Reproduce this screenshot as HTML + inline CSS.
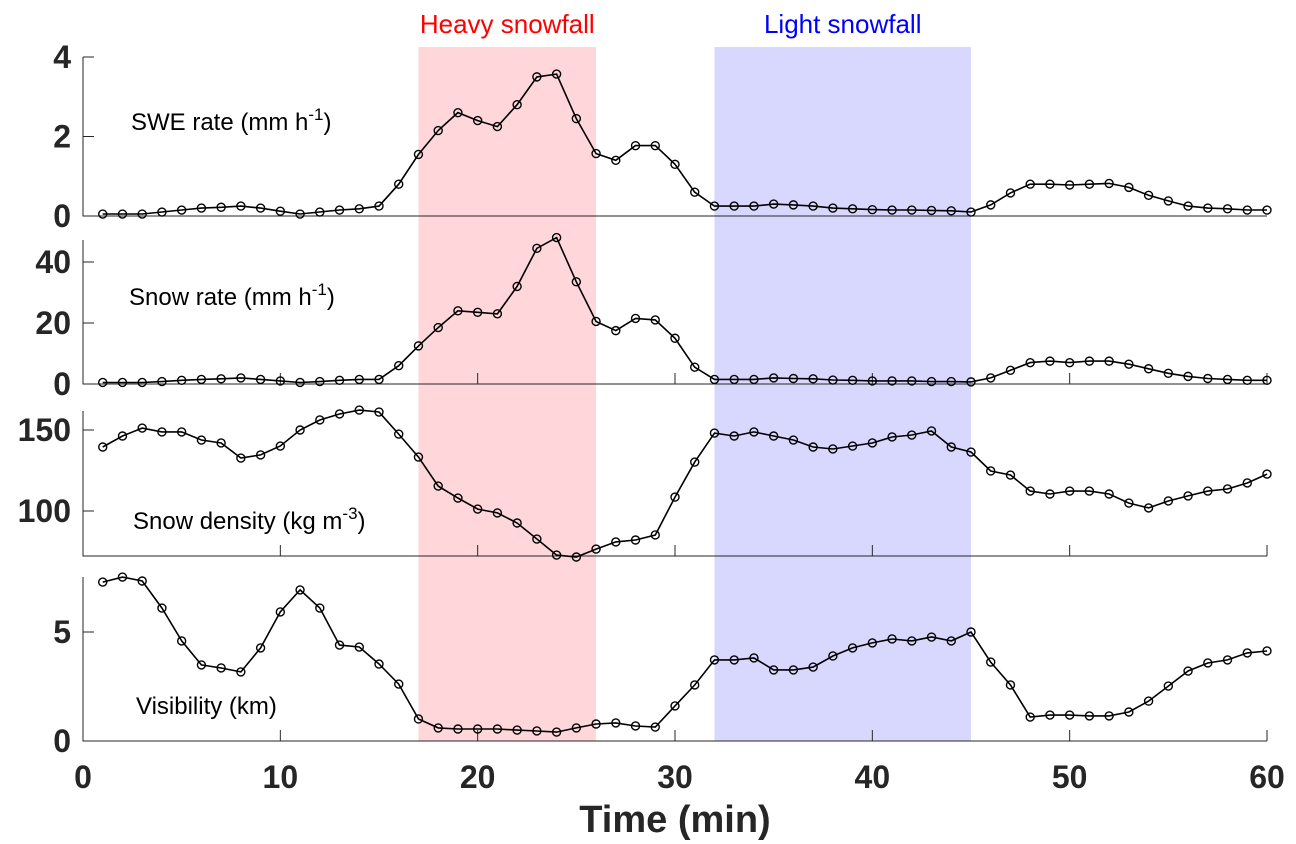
<!DOCTYPE html>
<html><head><meta charset="utf-8"><style>
body{margin:0;background:#fff;}
svg{display:block;font-family:"Liberation Sans",Arial,sans-serif;}
</style></head><body>
<svg id="chart" width="1296" height="844" xmlns="http://www.w3.org/2000/svg"></svg>
<script>
const times = Array.from({length:60},(_,i)=>i+1);
const sweRate = [0.05,0.05,0.05,0.1,0.15,0.2,0.22,0.25,0.2,0.12,0.05,0.1,0.15,0.18,0.25,0.8,1.55,2.15,2.6,2.4,2.25,2.8,3.5,3.57,2.45,1.57,1.4,1.77,1.77,1.3,0.6,0.25,0.25,0.25,0.3,0.28,0.25,0.2,0.18,0.16,0.15,0.15,0.14,0.13,0.1,0.28,0.58,0.8,0.8,0.78,0.8,0.82,0.72,0.52,0.38,0.25,0.2,0.18,0.15,0.15];
const snowRate = [0.5,0.5,0.5,0.8,1.2,1.5,1.7,2,1.5,1,0.5,0.8,1.2,1.5,1.5,6,12.5,18.5,24,23.5,23,32,44.5,48,33.5,20.5,17.5,21.5,21,15,5.5,1.5,1.5,1.5,2,1.8,1.7,1.3,1.2,1,1,1,0.8,0.8,0.7,2,4.5,7,7.5,7,7.5,7.5,6.5,5,3.5,2.5,1.8,1.5,1.2,1.2];
const snowDensity = [139.5,146.3,151.2,148.8,148.8,143.8,142,132.7,134.6,140.1,150,156.2,159.9,162.3,161.1,147.5,133.3,115.4,108,101.2,98.8,92.6,82.7,72.8,71.6,76.5,80.9,82.1,85.2,108.6,130.2,148.1,146.3,148.8,146.3,143.8,139.5,138.3,140.1,142,145.7,146.9,149.4,139.5,136.4,124.7,122.2,112.3,110.5,112.3,112.3,110.5,104.9,101.9,106.2,109.3,112.3,113.6,117.3,122.8];
const visibility = [7.29,7.52,7.34,6.1,4.59,3.49,3.35,3.17,4.27,5.92,6.93,6.1,4.4,4.31,3.53,2.61,1.01,0.6,0.55,0.55,0.55,0.5,0.46,0.41,0.6,0.78,0.83,0.69,0.64,1.61,2.57,3.72,3.72,3.81,3.26,3.26,3.39,3.9,4.27,4.5,4.68,4.59,4.77,4.59,5.0,3.62,2.57,1.1,1.19,1.19,1.15,1.15,1.33,1.83,2.52,3.21,3.58,3.72,4.04,4.13];
const xTicks = [0,10,20,30,40,50,60];
const sweTicks = [0,2,4];
const snowTicks = [0,20,40];
const densTicks = [100,150];
const visTicks = [0,5];
const heavySpan = [17,26];
const lightSpan = [32,45];

const NS="http://www.w3.org/2000/svg";
const svg=document.getElementById('chart');
const X0=83,X1=1267;
const xs=t=>X0+(t/60)*(X1-X0);
function mk(tag,attrs,parent){const e=document.createElementNS(NS,tag);for(const k in attrs)e.setAttribute(k,attrs[k]);(parent||svg).appendChild(e);return e;}

const bandTop=47,bandBot=741;
let r=mk('rect',{x:xs(heavySpan[0]),y:bandTop,width:xs(heavySpan[1])-xs(heavySpan[0]),height:bandBot-bandTop,fill:'#ffd7da'});


r=mk('rect',{x:xs(lightSpan[0]),y:bandTop,width:xs(lightSpan[1])-xs(lightSpan[0]),height:bandBot-bandTop,fill:'#d8d8fe'});


let t=mk('text',{x:(xs(heavySpan[0])+xs(heavySpan[1]))/2,y:33,'text-anchor':'middle','font-size':26,fill:'#f00'});
t.textContent='Heavy snowfall';


t=mk('text',{x:(xs(lightSpan[0])+xs(lightSpan[1]))/2,y:33,'text-anchor':'middle','font-size':26,fill:'#00f'});
t.textContent='Light snowfall';



const panels=[
 {name:'swe-rate',data:sweRate,ticks:sweTicks,yTop:57,yBot:216,lo:0,hi:4,label:['SWE rate (mm h','-1',')'],lx:131,ly:130,noX:true},
 {name:'snow-rate',data:snowRate,ticks:snowTicks,yTop:240,yBot:384,lo:0,hi:40,yHi:262,label:['Snow rate (mm h','-1',')'],lx:129,ly:305},
 {name:'snow-density',data:snowDensity,ticks:densTicks,lo:100,hi:150,yLo:511,yHi:430,yTop:411,yBot:556,label:['Snow density (kg m','-3',')'],lx:133,ly:529},
 {name:'visibility',data:visibility,ticks:visTicks,lo:0,hi:5,yLo:741,yHi:632,yTop:577,yBot:741,label:['Visibility (km)'],lx:136,ly:714}
];
panels.forEach(p=>{
 const yLo=p.yLo!==undefined?p.yLo:p.yBot;
 const yHi=p.yHi!==undefined?p.yHi:p.yTop;
 const ys=v=>yLo+(v-p.lo)/(p.hi-p.lo)*(yHi-yLo);
 const g=mk('g',{});
 
 
 let a=mk('path',{d:`M${X0},${p.yTop}V${p.yBot}H${X1}`,stroke:'#262626','stroke-width':1,fill:'none'},g);
 
 
 p.ticks.forEach(v=>{
  mk('line',{x1:X0,x2:X0+11,y1:ys(v),y2:ys(v),stroke:'#262626','stroke-width':1},g);
  const tl=mk('text',{x:X0-12,y:ys(v)+11,'text-anchor':'end','font-size':32,'font-weight':'bold',fill:'#262626'},g);
  tl.textContent=v;
  
  
 });
 if(!p.noX) xTicks.forEach(v=>{ if(v>0) mk('line',{x1:xs(v),x2:xs(v),y1:p.yBot,y2:p.yBot-11,stroke:'#262626','stroke-width':1},g); });
 const lab=mk('text',{x:p.lx,y:p.ly,'font-size':24,fill:'#000'},g);
 
 
 lab.appendChild(document.createTextNode(p.label[0]));
 if(p.label.length>1){
  const s=mk('tspan',{dy:-10,'font-size':17},lab); s.textContent=p.label[1];
  const s2=mk('tspan',{dy:10},lab); s2.textContent=p.label[2];
 }
 const d=p.data.map((v,i)=>(i?'L':'M')+xs(times[i]).toFixed(1)+','+ys(v).toFixed(1)).join('');
 const ln=mk('path',{d:d,stroke:'#000','stroke-width':1.6,fill:'none'},g);
 
 
 p.data.forEach((v,i)=>{
  const c=mk('circle',{cx:xs(times[i]),cy:ys(v),r:4,fill:'none',stroke:'#000','stroke-width':1.4},g);
  
  
 });
});
xTicks.forEach(v=>{
 const tl=mk('text',{x:xs(v),y:788,'text-anchor':'middle','font-size':32,'font-weight':'bold',fill:'#262626'});
 tl.textContent=v;
 
 
});
t=mk('text',{x:xs(30),y:832,'text-anchor':'middle','font-size':38,'font-weight':'bold',fill:'#262626'});
t.textContent='Time (min)';


</script>
</body></html>
